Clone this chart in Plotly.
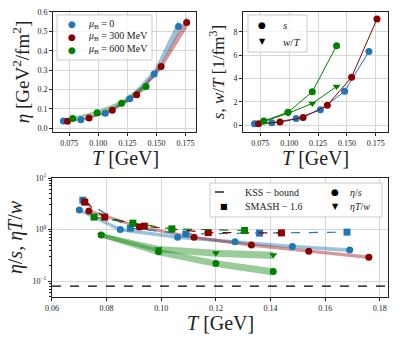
import plotly.graph_objects as go

# temperatures [GeV] of the three chemical potentials
T_mu0 = [0.070, 0.085, 0.106, 0.127, 0.148, 0.169]
T_mu300 = [0.0735, 0.092, 0.112, 0.133, 0.154, 0.176]
T_mu600 = [0.078, 0.099, 0.120, 0.141]

# shear viscosity eta [GeV^2/fm^2] and band half widths
eta_mu0 = [0.037, 0.043, 0.077, 0.152, 0.280, 0.525]
eta_mu0_err = [0.004, 0.005, 0.007, 0.011, 0.020, 0.035]
eta_mu300 = [0.035, 0.052, 0.092, 0.172, 0.318, 0.545]
eta_mu300_err = [0.003, 0.004, 0.006, 0.009, 0.016, 0.030]
eta_mu600 = [0.050, 0.080, 0.128, 0.215]
eta_mu600_err = [0.007, 0.010, 0.013, 0.017]

# entropy density s and w/T [1/fm^3]
s_mu0 = [0.10, 0.20, 0.55, 1.30, 2.90, 6.30]
s_mu300 = [0.10, 0.25, 0.65, 1.70, 4.10, 9.10]
s_mu600 = [0.35, 1.10, 2.85, 6.80]
wT_mu600 = [0.30, 1.00, 1.85, 3.30]

# eta/s and eta T/w with relative band widths
etas_mu0 = [2.40, 1.00, 0.71, 0.58, 0.47, 0.40]
etas_mu0_err = [0.08, 0.08, 0.08, 0.08, 0.08, 0.08]
etas_mu300 = [2.30, 1.12, 0.71, 0.50, 0.38, 0.29]
etas_mu300_err = [0.07, 0.07, 0.07, 0.07, 0.08, 0.08]
etas_mu600 = [0.78, 0.37, 0.22, 0.153]
etas_mu600_err = [0.10, 0.14, 0.15, 0.16]
etaTw_mu600 = [0.78, 0.42, 0.35, 0.32]
etaTw_mu600_err = [0.10, 0.14, 0.15, 0.16]

# SMASH-1.6 results
T_smash_mu0 = [0.0713, 0.0887, 0.109, 0.136, 0.168]
smash_mu0 = [3.70, 1.06, 0.82, 0.85, 0.89]
T_smash_mu300 = [0.072, 0.0793, 0.0938, 0.1172, 0.144]
smash_mu300 = [3.40, 1.74, 1.16, 0.87, 0.86]
T_smash_mu600 = [0.0754, 0.0896, 0.1039, 0.1305]
smash_mu600 = [1.74, 1.33, 1.03, 0.96]

kss = 0.0796

labels = ["<i>μ</i><sub>B</sub> = 0", "<i>μ</i><sub>B</sub> = 300 MeV", "<i>μ</i><sub>B</sub> = 600 MeV"]
colors = ["#1f77b4", "#8b0000", "#008000"]
bands = ["rgba(31,119,180,0.45)", "rgba(139,0,0,0.40)", "rgba(0,128,0,0.40)"]

SERIF = "Liberation Serif"
W, H = 399, 342
fig = go.Figure()


def band_abs(x, y, err, color, xa, ya):
    up = [v + e for v, e in zip(y, err)]
    lo = [v - e for v, e in zip(y, err)]
    fig.add_trace(go.Scatter(x=x + x[::-1], y=up + lo[::-1], fill="toself", fillcolor=color,
                             line=dict(width=0), mode="lines", hoverinfo="skip",
                             showlegend=False, xaxis=xa, yaxis=ya))


def band_rel(x, y, err, color, xa, ya):
    up = [v * (1 + e) for v, e in zip(y, err)]
    lo = [v * (1 - e) for v, e in zip(y, err)]
    fig.add_trace(go.Scatter(x=x + x[::-1], y=up + lo[::-1], fill="toself", fillcolor=color,
                             line=dict(width=0), mode="lines", hoverinfo="skip",
                             showlegend=False, xaxis=xa, yaxis=ya))


# --- top left: eta
Ts = [T_mu0, T_mu300, T_mu600]
etas = [eta_mu0, eta_mu300, eta_mu600]
eta_errs = [eta_mu0_err, eta_mu300_err, eta_mu600_err]
for T, e, de, b in zip(Ts, etas, eta_errs, bands):
    band_abs(T, e, de, b, "x", "y")
for T, e, c in zip(Ts, etas, colors):
    fig.add_trace(go.Scatter(x=T, y=e, mode="markers", showlegend=False,
                             marker=dict(color=c, size=7), xaxis="x", yaxis="y"))

# --- top right: s and w/T
for T, s, c in zip(Ts, [s_mu0, s_mu300, s_mu600], colors):
    fig.add_trace(go.Scatter(x=T, y=s, mode="lines+markers", showlegend=False,
                             line=dict(color=c, width=1), marker=dict(color=c, size=7),
                             xaxis="x2", yaxis="y2"))
fig.add_trace(go.Scatter(x=T_mu600, y=wT_mu600, mode="lines+markers", showlegend=False,
                         line=dict(color=colors[2], width=1),
                         marker=dict(color=colors[2], size=7, symbol="triangle-down"),
                         xaxis="x2", yaxis="y2"))

# --- bottom: eta/s
band_rel(T_mu0, etas_mu0, etas_mu0_err, bands[0], "x3", "y3")
band_rel(T_mu300, etas_mu300, etas_mu300_err, bands[1], "x3", "y3")
band_rel(T_mu600, etas_mu600, etas_mu600_err, bands[2], "x3", "y3")
band_rel(T_mu600, etaTw_mu600, etaTw_mu600_err, bands[2], "x3", "y3")

smash_T = [T_smash_mu0, T_smash_mu300, T_smash_mu600]
smash_v = [smash_mu0, smash_mu300, smash_mu600]
for T, v, c in zip(smash_T, smash_v, colors):
    fig.add_trace(go.Scatter(x=T, y=v, mode="lines+markers", showlegend=False,
                             line=dict(color=c, width=1.2, dash="dash"),
                             marker=dict(color=c, size=7, symbol="square"),
                             xaxis="x3", yaxis="y3"))
for T, v, c in zip(Ts, [etas_mu0, etas_mu300, etas_mu600], colors):
    fig.add_trace(go.Scatter(x=T, y=v, mode="markers", showlegend=False,
                             marker=dict(color=c, size=7), xaxis="x3", yaxis="y3"))
fig.add_trace(go.Scatter(x=T_mu600, y=etaTw_mu600, mode="markers", showlegend=False,
                         marker=dict(color=colors[2], size=7, symbol="triangle-down"),
                         xaxis="x3", yaxis="y3"))

fig.add_shape(type="line", xref="x3 domain", yref="y3", x0=0, x1=1, y0=kss, y1=kss,
              line=dict(color="black", width=1.3, dash="dash"))

axis_style = dict(showline=True, linecolor="#222", linewidth=1, mirror=True, ticks="outside",
                  ticklen=3, tickcolor="#222", showgrid=True, gridcolor="#d6d6d6", gridwidth=1,
                  zeroline=False, automargin=False, tickfont=dict(size=8, family=SERIF, color="#222"))
top_ticks = [0.075, 0.100, 0.125, 0.150, 0.175]
minor_log = [0.05, 0.06, 0.07, 0.08, 0.09, 0.2, 0.3, 0.4, 0.5, 0.6, 0.7, 0.8, 0.9,
             2, 3, 4, 5, 6, 7, 8, 9]

fig.update_layout(
    width=W, height=H, margin=dict(l=0, r=0, t=0, b=0),
    paper_bgcolor="white", plot_bgcolor="white", showlegend=False,
    font=dict(family=SERIF, color="#222"),
    xaxis=dict(axis_style, domain=[0.1328, 0.4912], range=[0.061, 0.184], tickvals=top_ticks,
               tickformat=".3f", anchor="y"),
    yaxis=dict(axis_style, domain=[0.614, 0.965], range=[-0.02, 0.6], dtick=0.1, tickformat=".1f",
               anchor="x", title=dict(text="<i>η</i> [GeV<sup>2</sup>/fm<sup>2</sup>]", font=dict(size=19), standoff=2)),
    xaxis2=dict(axis_style, domain=[0.609, 0.9724], range=[0.060, 0.1855], tickvals=top_ticks,
                tickformat=".3f", anchor="y2"),
    yaxis2=dict(axis_style, domain=[0.614, 0.965], range=[-0.6, 9.7], tickvals=[0, 2, 4, 6, 8],
                anchor="x2", title=dict(text="<i>s</i>, <i>w</i>/<i>T</i> [1/fm<sup>3</sup>]", font=dict(size=17), standoff=4)),
    xaxis3=dict(axis_style, domain=[0.1303, 0.9724], range=[0.06, 0.183], dtick=0.02,
                tickformat=".2f", anchor="y3"),
    yaxis3=dict(axis_style, domain=[0.1316, 0.4795], type="log", range=[-1.31, 1.0],
                tickvals=[0.1, 1, 10], ticktext=["10<sup>−1</sup>", "10<sup>0</sup>", "10<sup>1</sup>"],
                anchor="x3",
                minor=dict(ticks="outside", ticklen=2, tickcolor="#222", showgrid=False, tickvals=minor_log),
                title=dict(text="<i>η</i>/<i>s</i>, <i>ηT</i>/<i>w</i>", font=dict(size=20), standoff=4)),
)


def px(x, y):
    return x / W, 1 - y / H


def label(x, y, text, size, anchor="center"):
    a, b = px(x, y)
    fig.add_annotation(x=a, y=b, xref="paper", yref="paper", text=text, showarrow=False,
                       xanchor=anchor, yanchor="middle", font=dict(family=SERIF, size=size, color="#222"))


# x axis titles
label(125, 158, "<i>T</i> [GeV]", 20)
label(315, 158, "<i>T</i> [GeV]", 20)
label(220, 323, "<i>T</i> [GeV]", 20)


def legend_box(x0, y0, x1, y1):
    a, b = px(x0, y0)
    c, d = px(x1, y1)
    fig.add_shape(type="rect", xref="paper", yref="paper", x0=a, x1=c, y0=d, y1=b,
                  line=dict(color="#cccccc", width=1), fillcolor="rgba(255,255,255,0.8)", layer="above")


def legend_sym(x, y, sym, color, size=9):
    a, b = px(x, y)
    fig.add_annotation(x=a, y=b, xref="paper", yref="paper", text=sym, showarrow=False,
                       xanchor="center", yanchor="middle", font=dict(family="DejaVu Sans", size=size, color=color))


# legend of the eta panel
legend_box(57, 15, 152, 60)
for k, (lab, c) in enumerate(zip(labels, colors)):
    legend_sym(72, 24 + 13 * k, "●", c)
    label(86, 24 + 13 * k, lab, 10, "left")

# legend of the s, w/T panel
legend_box(248, 15, 307, 52)
legend_sym(262, 25, "●", "black")
label(281, 25, "<i>s</i>", 11, "left")
legend_sym(262, 42, "▼", "black", 8)
label(281, 42, "<i>w</i>/<i>T</i>", 11, "left")

# legend of the eta/s panel
legend_box(210, 183, 382, 217)
a0, b0 = px(215, 192)
a1, _ = px(233, 192)
fig.add_shape(type="line", xref="paper", yref="paper", x0=a0, x1=a1, y0=b0, y1=b0,
              line=dict(color="black", width=1.3, dash="dash"), layer="above")
label(243, 192, "KSS − bound", 10, "left")
legend_sym(224, 206, "■", "black", 8)
label(243, 206, "SMASH − 1.6", 10, "left")
legend_sym(335, 192, "●", "black")
label(348, 192, "<i>η</i>/<i>s</i>", 10, "left")
legend_sym(335, 206, "▼", "black", 8)
label(348, 206, "<i>ηT</i>/<i>w</i>", 10, "left")

fig.write_html("out.html", config={"displayModeBar": False},
               post_script="document.body.style.margin='0';")
